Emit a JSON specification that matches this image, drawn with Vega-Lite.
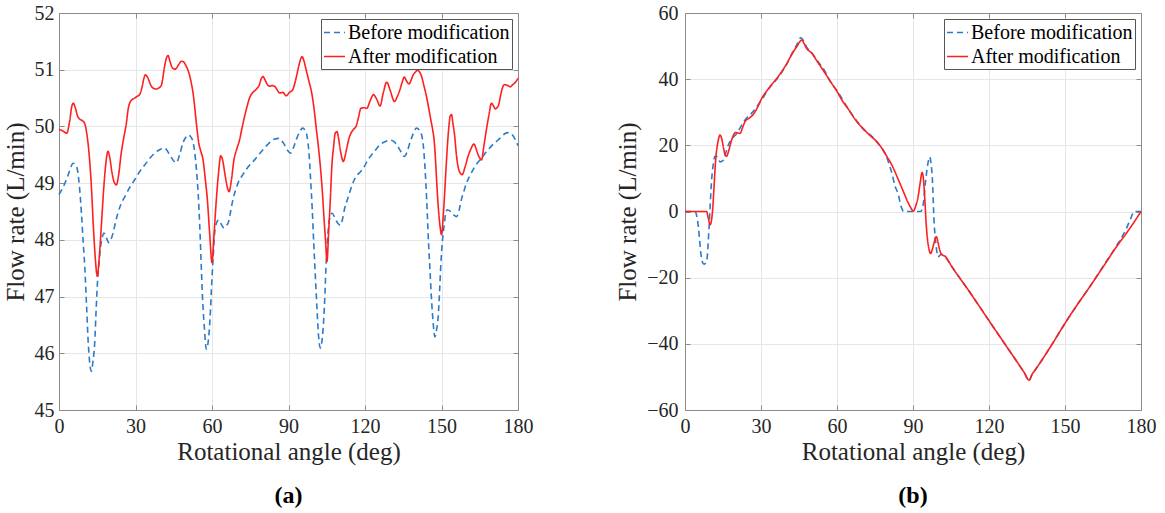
{
  "$schema": "https://vega.github.io/schema/vega-lite/v6.json",
  "background": "white",
  "padding": {"left": 3, "top": 3, "right": 5, "bottom": 2},
  "bounds": "flush",
  "spacing": 167,
  "config": {
    "font": "Liberation Serif",
    "view": {"stroke": null},
    "axis": {
      "labelFont": "Liberation Serif",
      "titleFont": "Liberation Serif",
      "labelFontSize": 20,
      "titleFontSize": 25,
      "titleFontWeight": "normal",
      "labelColor": "#262626",
      "titleColor": "#262626",
      "domainColor": "#8c8c8c",
      "tickColor": "#8c8c8c",
      "gridColor": "#e6e6e6",
      "tickSize": -5,
      "labelPadding": 11,
      "labelFlush": false
    },
    "legend": {
      "orient": "top-right",
      "offset": 6,
      "padding": 2,
      "strokeColor": "#555555",
      "fillColor": "#ffffff",
      "labelFont": "Liberation Serif",
      "labelFontSize": 20,
      "labelColor": "#000000",
      "labelLimit": 400,
      "symbolSize": 441,
      "symbolStrokeWidth": 1.6,
      "rowPadding": 2,
      "labelOffset": 2
    },
    "title": {"font": "Liberation Serif", "fontSize": 24, "fontWeight": "bold", "color": "#000000"}
  },
  "datasets": {
    "a": [
      {"series": "Before modification", "angle": 0, "flow": 48.8},
      {"series": "Before modification", "angle": 1.5, "flow": 48.92},
      {"series": "Before modification", "angle": 2.9, "flow": 49.06},
      {"series": "Before modification", "angle": 4.2, "flow": 49.22},
      {"series": "Before modification", "angle": 5.5, "flow": 49.35},
      {"series": "Before modification", "angle": 6.4, "flow": 49.33},
      {"series": "Before modification", "angle": 7.2, "flow": 49.24},
      {"series": "Before modification", "angle": 8.0, "flow": 48.95},
      {"series": "Before modification", "angle": 8.8, "flow": 48.47},
      {"series": "Before modification", "angle": 9.5, "flow": 47.95},
      {"series": "Before modification", "angle": 10.1, "flow": 47.53},
      {"series": "Before modification", "angle": 10.8, "flow": 46.85},
      {"series": "Before modification", "angle": 11.4, "flow": 46.24},
      {"series": "Before modification", "angle": 12.0, "flow": 45.85},
      {"series": "Before modification", "angle": 12.7, "flow": 45.68},
      {"series": "Before modification", "angle": 13.3, "flow": 45.85},
      {"series": "Before modification", "angle": 14.0, "flow": 46.18},
      {"series": "Before modification", "angle": 14.5, "flow": 46.7},
      {"series": "Before modification", "angle": 15.0, "flow": 47.18},
      {"series": "Before modification", "angle": 15.6, "flow": 47.55},
      {"series": "Before modification", "angle": 16.3, "flow": 47.88},
      {"series": "Before modification", "angle": 17.0, "flow": 48.05},
      {"series": "Before modification", "angle": 17.6, "flow": 48.12},
      {"series": "Before modification", "angle": 18.5, "flow": 48.05},
      {"series": "Before modification", "angle": 19.5, "flow": 47.95},
      {"series": "Before modification", "angle": 20.3, "flow": 48.0},
      {"series": "Before modification", "angle": 21.2, "flow": 48.12},
      {"series": "Before modification", "angle": 22.1, "flow": 48.3},
      {"series": "Before modification", "angle": 23.1, "flow": 48.47},
      {"series": "Before modification", "angle": 24.3, "flow": 48.63},
      {"series": "Before modification", "angle": 25.8, "flow": 48.76},
      {"series": "Before modification", "angle": 27.7, "flow": 48.92},
      {"series": "Before modification", "angle": 29.7, "flow": 49.06},
      {"series": "Before modification", "angle": 31.6, "flow": 49.2},
      {"series": "Before modification", "angle": 33.6, "flow": 49.32},
      {"series": "Before modification", "angle": 35.5, "flow": 49.43},
      {"series": "Before modification", "angle": 37.5, "flow": 49.53},
      {"series": "Before modification", "angle": 39.5, "flow": 49.59},
      {"series": "Before modification", "angle": 41.4, "flow": 49.62},
      {"series": "Before modification", "angle": 42.6, "flow": 49.56},
      {"series": "Before modification", "angle": 43.8, "flow": 49.47},
      {"series": "Before modification", "angle": 45.0, "flow": 49.39},
      {"series": "Before modification", "angle": 46.0, "flow": 49.36},
      {"series": "Before modification", "angle": 47.3, "flow": 49.5},
      {"series": "Before modification", "angle": 48.6, "flow": 49.71},
      {"series": "Before modification", "angle": 49.6, "flow": 49.8},
      {"series": "Before modification", "angle": 50.6, "flow": 49.85},
      {"series": "Before modification", "angle": 51.6, "flow": 49.82},
      {"series": "Before modification", "angle": 52.5, "flow": 49.74},
      {"series": "Before modification", "angle": 53.2, "flow": 49.55},
      {"series": "Before modification", "angle": 53.9, "flow": 49.24},
      {"series": "Before modification", "angle": 54.6, "flow": 48.8},
      {"series": "Before modification", "angle": 55.2, "flow": 48.24},
      {"series": "Before modification", "angle": 55.7, "flow": 47.65},
      {"series": "Before modification", "angle": 56.2, "flow": 47.06},
      {"series": "Before modification", "angle": 57.0, "flow": 46.45},
      {"series": "Before modification", "angle": 57.8, "flow": 46.07},
      {"series": "Before modification", "angle": 58.5, "flow": 46.2},
      {"series": "Before modification", "angle": 59.2, "flow": 46.59},
      {"series": "Before modification", "angle": 59.8, "flow": 47.15},
      {"series": "Before modification", "angle": 60.4, "flow": 47.65},
      {"series": "Before modification", "angle": 61.0, "flow": 48.1},
      {"series": "Before modification", "angle": 61.8, "flow": 48.3},
      {"series": "Before modification", "angle": 62.6, "flow": 48.35},
      {"series": "Before modification", "angle": 63.6, "flow": 48.28},
      {"series": "Before modification", "angle": 64.7, "flow": 48.21},
      {"series": "Before modification", "angle": 65.6, "flow": 48.25},
      {"series": "Before modification", "angle": 66.5, "flow": 48.32},
      {"series": "Before modification", "angle": 67.3, "flow": 48.5},
      {"series": "Before modification", "angle": 68.2, "flow": 48.71},
      {"series": "Before modification", "angle": 69.2, "flow": 48.87},
      {"series": "Before modification", "angle": 70.2, "flow": 49.0},
      {"series": "Before modification", "angle": 71.8, "flow": 49.13},
      {"series": "Before modification", "angle": 73.4, "flow": 49.24},
      {"series": "Before modification", "angle": 75.0, "flow": 49.33},
      {"series": "Before modification", "angle": 76.7, "flow": 49.41},
      {"series": "Before modification", "angle": 78.3, "flow": 49.5},
      {"series": "Before modification", "angle": 80.0, "flow": 49.59},
      {"series": "Before modification", "angle": 81.6, "flow": 49.67},
      {"series": "Before modification", "angle": 83.2, "flow": 49.74},
      {"series": "Before modification", "angle": 84.7, "flow": 49.78},
      {"series": "Before modification", "angle": 86.1, "flow": 49.79},
      {"series": "Before modification", "angle": 87.3, "flow": 49.75},
      {"series": "Before modification", "angle": 88.4, "flow": 49.68},
      {"series": "Before modification", "angle": 89.6, "flow": 49.58},
      {"series": "Before modification", "angle": 90.8, "flow": 49.53},
      {"series": "Before modification", "angle": 91.9, "flow": 49.62},
      {"series": "Before modification", "angle": 93.0, "flow": 49.76},
      {"series": "Before modification", "angle": 94.3, "flow": 49.9},
      {"series": "Before modification", "angle": 95.6, "flow": 49.97},
      {"series": "Before modification", "angle": 96.5, "flow": 49.93},
      {"series": "Before modification", "angle": 97.3, "flow": 49.82},
      {"series": "Before modification", "angle": 98.0, "flow": 49.55},
      {"series": "Before modification", "angle": 98.6, "flow": 49.12},
      {"series": "Before modification", "angle": 99.3, "flow": 48.55},
      {"series": "Before modification", "angle": 99.9, "flow": 47.94},
      {"series": "Before modification", "angle": 100.6, "flow": 47.3},
      {"series": "Before modification", "angle": 101.2, "flow": 46.76},
      {"series": "Before modification", "angle": 101.8, "flow": 46.3},
      {"series": "Before modification", "angle": 102.5, "flow": 46.09},
      {"series": "Before modification", "angle": 103.2, "flow": 46.25},
      {"series": "Before modification", "angle": 103.8, "flow": 46.59},
      {"series": "Before modification", "angle": 104.3, "flow": 47.05},
      {"series": "Before modification", "angle": 104.7, "flow": 47.53},
      {"series": "Before modification", "angle": 105.3, "flow": 48.0},
      {"series": "Before modification", "angle": 106.0, "flow": 48.35},
      {"series": "Before modification", "angle": 107.1, "flow": 48.47},
      {"series": "Before modification", "angle": 108.1, "flow": 48.4},
      {"series": "Before modification", "angle": 109.2, "flow": 48.3},
      {"series": "Before modification", "angle": 110.3, "flow": 48.26},
      {"series": "Before modification", "angle": 111.1, "flow": 48.35},
      {"series": "Before modification", "angle": 111.9, "flow": 48.53},
      {"series": "Before modification", "angle": 112.9, "flow": 48.68},
      {"series": "Before modification", "angle": 113.9, "flow": 48.82},
      {"series": "Before modification", "angle": 114.8, "flow": 48.95},
      {"series": "Before modification", "angle": 115.8, "flow": 49.06},
      {"series": "Before modification", "angle": 117.1, "flow": 49.15},
      {"series": "Before modification", "angle": 118.4, "flow": 49.21},
      {"series": "Before modification", "angle": 119.7, "flow": 49.29},
      {"series": "Before modification", "angle": 121.0, "flow": 49.4},
      {"series": "Before modification", "angle": 122.6, "flow": 49.5},
      {"series": "Before modification", "angle": 124.2, "flow": 49.59},
      {"series": "Before modification", "angle": 125.9, "flow": 49.68},
      {"series": "Before modification", "angle": 127.8, "flow": 49.73},
      {"series": "Before modification", "angle": 129.8, "flow": 49.76},
      {"series": "Before modification", "angle": 131.1, "flow": 49.74},
      {"series": "Before modification", "angle": 132.4, "flow": 49.68},
      {"series": "Before modification", "angle": 134.0, "flow": 49.56},
      {"series": "Before modification", "angle": 135.4, "flow": 49.47},
      {"series": "Before modification", "angle": 136.5, "flow": 49.55},
      {"series": "Before modification", "angle": 137.6, "flow": 49.71},
      {"series": "Before modification", "angle": 139.0, "flow": 49.88},
      {"series": "Before modification", "angle": 140.2, "flow": 49.97},
      {"series": "Before modification", "angle": 141.2, "flow": 49.94},
      {"series": "Before modification", "angle": 142.2, "flow": 49.85},
      {"series": "Before modification", "angle": 142.9, "flow": 49.65},
      {"series": "Before modification", "angle": 143.5, "flow": 49.29},
      {"series": "Before modification", "angle": 144.2, "flow": 48.7},
      {"series": "Before modification", "angle": 144.8, "flow": 48.06},
      {"series": "Before modification", "angle": 145.5, "flow": 47.45},
      {"series": "Before modification", "angle": 146.1, "flow": 46.94},
      {"series": "Before modification", "angle": 146.8, "flow": 46.5},
      {"series": "Before modification", "angle": 147.4, "flow": 46.29},
      {"series": "Before modification", "angle": 148.0, "flow": 46.4},
      {"series": "Before modification", "angle": 148.7, "flow": 46.65},
      {"series": "Before modification", "angle": 149.2, "flow": 47.05},
      {"series": "Before modification", "angle": 149.7, "flow": 47.53},
      {"series": "Before modification", "angle": 150.3, "flow": 47.95},
      {"series": "Before modification", "angle": 151.0, "flow": 48.24},
      {"series": "Before modification", "angle": 151.6, "flow": 48.45},
      {"series": "Before modification", "angle": 152.3, "flow": 48.53},
      {"series": "Before modification", "angle": 153.5, "flow": 48.5},
      {"series": "Before modification", "angle": 154.8, "flow": 48.44},
      {"series": "Before modification", "angle": 155.9, "flow": 48.41},
      {"series": "Before modification", "angle": 156.9, "flow": 48.52},
      {"series": "Before modification", "angle": 157.8, "flow": 48.71},
      {"series": "Before modification", "angle": 158.8, "flow": 48.86},
      {"series": "Before modification", "angle": 159.8, "flow": 49.0},
      {"series": "Before modification", "angle": 161.1, "flow": 49.13},
      {"series": "Before modification", "angle": 162.4, "flow": 49.24},
      {"series": "Before modification", "angle": 164.0, "flow": 49.35},
      {"series": "Before modification", "angle": 165.7, "flow": 49.44},
      {"series": "Before modification", "angle": 167.3, "flow": 49.54},
      {"series": "Before modification", "angle": 168.9, "flow": 49.62},
      {"series": "Before modification", "angle": 170.6, "flow": 49.7},
      {"series": "Before modification", "angle": 172.2, "flow": 49.76},
      {"series": "Before modification", "angle": 173.5, "flow": 49.82},
      {"series": "Before modification", "angle": 174.8, "flow": 49.87},
      {"series": "Before modification", "angle": 176.0, "flow": 49.89},
      {"series": "Before modification", "angle": 177.0, "flow": 49.88},
      {"series": "Before modification", "angle": 178.0, "flow": 49.84},
      {"series": "Before modification", "angle": 179.0, "flow": 49.76},
      {"series": "Before modification", "angle": 180.0, "flow": 49.66},
      {"series": "After modification", "angle": 0, "flow": 49.95},
      {"series": "After modification", "angle": 1.5, "flow": 49.92},
      {"series": "After modification", "angle": 3.0, "flow": 49.88},
      {"series": "After modification", "angle": 4.2, "flow": 50.1},
      {"series": "After modification", "angle": 5.0, "flow": 50.35},
      {"series": "After modification", "angle": 5.6, "flow": 50.41},
      {"series": "After modification", "angle": 6.4, "flow": 50.33},
      {"series": "After modification", "angle": 7.3, "flow": 50.18},
      {"series": "After modification", "angle": 8.1, "flow": 50.13},
      {"series": "After modification", "angle": 9.2, "flow": 50.1},
      {"series": "After modification", "angle": 10.1, "flow": 50.05},
      {"series": "After modification", "angle": 10.8, "flow": 49.9},
      {"series": "After modification", "angle": 11.4, "flow": 49.7},
      {"series": "After modification", "angle": 12.1, "flow": 49.35},
      {"series": "After modification", "angle": 12.7, "flow": 48.94},
      {"series": "After modification", "angle": 13.4, "flow": 48.3},
      {"series": "After modification", "angle": 14.2, "flow": 47.7},
      {"series": "After modification", "angle": 15.0, "flow": 47.36},
      {"series": "After modification", "angle": 15.8, "flow": 47.7},
      {"series": "After modification", "angle": 16.6, "flow": 48.24},
      {"series": "After modification", "angle": 17.3, "flow": 48.75},
      {"series": "After modification", "angle": 17.9, "flow": 49.12},
      {"series": "After modification", "angle": 18.5, "flow": 49.4},
      {"series": "After modification", "angle": 19.2, "flow": 49.56},
      {"series": "After modification", "angle": 19.9, "flow": 49.45},
      {"series": "After modification", "angle": 20.8, "flow": 49.18},
      {"series": "After modification", "angle": 21.6, "flow": 49.02},
      {"series": "After modification", "angle": 22.5, "flow": 48.97},
      {"series": "After modification", "angle": 23.4, "flow": 49.15},
      {"series": "After modification", "angle": 24.4, "flow": 49.53},
      {"series": "After modification", "angle": 25.4, "flow": 49.8},
      {"series": "After modification", "angle": 26.4, "flow": 50.05},
      {"series": "After modification", "angle": 27.1, "flow": 50.3},
      {"series": "After modification", "angle": 27.7, "flow": 50.41},
      {"series": "After modification", "angle": 28.6, "flow": 50.47},
      {"series": "After modification", "angle": 29.7, "flow": 50.5},
      {"series": "After modification", "angle": 30.6, "flow": 50.53},
      {"series": "After modification", "angle": 31.6, "flow": 50.56},
      {"series": "After modification", "angle": 32.6, "flow": 50.7},
      {"series": "After modification", "angle": 33.3, "flow": 50.85},
      {"series": "After modification", "angle": 33.9, "flow": 50.91},
      {"series": "After modification", "angle": 34.9, "flow": 50.85},
      {"series": "After modification", "angle": 36.2, "flow": 50.71},
      {"series": "After modification", "angle": 37.2, "flow": 50.67},
      {"series": "After modification", "angle": 38.2, "flow": 50.66},
      {"series": "After modification", "angle": 39.2, "flow": 50.68},
      {"series": "After modification", "angle": 40.1, "flow": 50.72},
      {"series": "After modification", "angle": 40.8, "flow": 50.88},
      {"series": "After modification", "angle": 41.4, "flow": 51.06},
      {"series": "After modification", "angle": 42.1, "flow": 51.2},
      {"series": "After modification", "angle": 42.8, "flow": 51.25},
      {"series": "After modification", "angle": 43.5, "flow": 51.15},
      {"series": "After modification", "angle": 44.5, "flow": 51.03},
      {"series": "After modification", "angle": 45.6, "flow": 51.01},
      {"series": "After modification", "angle": 46.8, "flow": 51.08},
      {"series": "After modification", "angle": 48.0, "flow": 51.15},
      {"series": "After modification", "angle": 48.8, "flow": 51.14},
      {"series": "After modification", "angle": 49.9, "flow": 51.06},
      {"series": "After modification", "angle": 50.9, "flow": 50.95},
      {"series": "After modification", "angle": 51.9, "flow": 50.76},
      {"series": "After modification", "angle": 52.6, "flow": 50.58},
      {"series": "After modification", "angle": 53.2, "flow": 50.35},
      {"series": "After modification", "angle": 54.0, "flow": 50.0},
      {"series": "After modification", "angle": 54.8, "flow": 49.71},
      {"series": "After modification", "angle": 55.7, "flow": 49.55},
      {"series": "After modification", "angle": 56.5, "flow": 49.41},
      {"series": "After modification", "angle": 57.3, "flow": 49.1},
      {"series": "After modification", "angle": 58.2, "flow": 48.7},
      {"series": "After modification", "angle": 59.1, "flow": 48.1},
      {"series": "After modification", "angle": 60.0, "flow": 47.6},
      {"series": "After modification", "angle": 60.8, "flow": 48.1},
      {"series": "After modification", "angle": 61.7, "flow": 48.71},
      {"series": "After modification", "angle": 62.6, "flow": 49.2},
      {"series": "After modification", "angle": 63.4, "flow": 49.48},
      {"series": "After modification", "angle": 64.2, "flow": 49.4},
      {"series": "After modification", "angle": 65.0, "flow": 49.18},
      {"series": "After modification", "angle": 65.9, "flow": 48.95},
      {"series": "After modification", "angle": 66.7, "flow": 48.85},
      {"series": "After modification", "angle": 67.6, "flow": 49.05},
      {"series": "After modification", "angle": 68.6, "flow": 49.41},
      {"series": "After modification", "angle": 69.7, "flow": 49.6},
      {"series": "After modification", "angle": 70.8, "flow": 49.76},
      {"series": "After modification", "angle": 71.8, "flow": 49.98},
      {"series": "After modification", "angle": 72.8, "flow": 50.18},
      {"series": "After modification", "angle": 73.8, "flow": 50.36},
      {"series": "After modification", "angle": 74.7, "flow": 50.5},
      {"series": "After modification", "angle": 76.0, "flow": 50.6},
      {"series": "After modification", "angle": 77.3, "flow": 50.65},
      {"series": "After modification", "angle": 78.7, "flow": 50.75},
      {"series": "After modification", "angle": 79.3, "flow": 50.84},
      {"series": "After modification", "angle": 80.0, "flow": 50.88},
      {"series": "After modification", "angle": 80.8, "flow": 50.82},
      {"series": "After modification", "angle": 81.7, "flow": 50.74},
      {"series": "After modification", "angle": 82.6, "flow": 50.71},
      {"series": "After modification", "angle": 83.5, "flow": 50.72},
      {"series": "After modification", "angle": 84.5, "flow": 50.71},
      {"series": "After modification", "angle": 85.5, "flow": 50.65},
      {"series": "After modification", "angle": 86.5, "flow": 50.59},
      {"series": "After modification", "angle": 87.8, "flow": 50.6},
      {"series": "After modification", "angle": 89.1, "flow": 50.54},
      {"series": "After modification", "angle": 90.4, "flow": 50.6},
      {"series": "After modification", "angle": 91.7, "flow": 50.65},
      {"series": "After modification", "angle": 92.7, "flow": 50.8},
      {"series": "After modification", "angle": 93.7, "flow": 51.0},
      {"series": "After modification", "angle": 94.5, "flow": 51.15},
      {"series": "After modification", "angle": 95.3, "flow": 51.23},
      {"series": "After modification", "angle": 96.1, "flow": 51.15},
      {"series": "After modification", "angle": 96.9, "flow": 51.0},
      {"series": "After modification", "angle": 98.0, "flow": 50.8},
      {"series": "After modification", "angle": 99.1, "flow": 50.59},
      {"series": "After modification", "angle": 100.0, "flow": 50.32},
      {"series": "After modification", "angle": 100.8, "flow": 50.0},
      {"series": "After modification", "angle": 101.7, "flow": 49.65},
      {"series": "After modification", "angle": 102.5, "flow": 49.29},
      {"series": "After modification", "angle": 103.2, "flow": 48.9},
      {"series": "After modification", "angle": 103.8, "flow": 48.47},
      {"series": "After modification", "angle": 104.5, "flow": 48.0},
      {"series": "After modification", "angle": 105.1, "flow": 47.62},
      {"series": "After modification", "angle": 105.7, "flow": 48.1},
      {"series": "After modification", "angle": 106.4, "flow": 48.71},
      {"series": "After modification", "angle": 107.0, "flow": 49.3},
      {"series": "After modification", "angle": 107.7, "flow": 49.65},
      {"series": "After modification", "angle": 108.3, "flow": 49.88},
      {"series": "After modification", "angle": 109.0, "flow": 49.91},
      {"series": "After modification", "angle": 109.6, "flow": 49.8},
      {"series": "After modification", "angle": 110.3, "flow": 49.59},
      {"series": "After modification", "angle": 110.9, "flow": 49.45},
      {"series": "After modification", "angle": 111.5, "flow": 49.38},
      {"series": "After modification", "angle": 112.2, "flow": 49.48},
      {"series": "After modification", "angle": 113.0, "flow": 49.65},
      {"series": "After modification", "angle": 113.8, "flow": 49.8},
      {"series": "After modification", "angle": 114.5, "flow": 49.88},
      {"series": "After modification", "angle": 115.5, "flow": 49.95},
      {"series": "After modification", "angle": 116.5, "flow": 50.0},
      {"series": "After modification", "angle": 117.4, "flow": 50.15},
      {"series": "After modification", "angle": 118.4, "flow": 50.32},
      {"series": "After modification", "angle": 119.5, "flow": 50.33},
      {"series": "After modification", "angle": 120.7, "flow": 50.32},
      {"series": "After modification", "angle": 122.0, "flow": 50.45},
      {"series": "After modification", "angle": 123.3, "flow": 50.56},
      {"series": "After modification", "angle": 124.6, "flow": 50.48},
      {"series": "After modification", "angle": 125.9, "flow": 50.36},
      {"series": "After modification", "angle": 127.2, "flow": 50.6},
      {"series": "After modification", "angle": 128.5, "flow": 50.78},
      {"series": "After modification", "angle": 130.0, "flow": 50.62},
      {"series": "After modification", "angle": 131.5, "flow": 50.44},
      {"series": "After modification", "angle": 132.6, "flow": 50.52},
      {"series": "After modification", "angle": 133.7, "flow": 50.65},
      {"series": "After modification", "angle": 134.6, "flow": 50.78},
      {"series": "After modification", "angle": 135.4, "flow": 50.87},
      {"series": "After modification", "angle": 136.3, "flow": 50.8},
      {"series": "After modification", "angle": 137.3, "flow": 50.75},
      {"series": "After modification", "angle": 138.1, "flow": 50.82},
      {"series": "After modification", "angle": 138.9, "flow": 50.91},
      {"series": "After modification", "angle": 139.8, "flow": 50.96},
      {"series": "After modification", "angle": 140.6, "flow": 50.99},
      {"series": "After modification", "angle": 141.4, "flow": 50.96},
      {"series": "After modification", "angle": 142.2, "flow": 50.88},
      {"series": "After modification", "angle": 143.1, "flow": 50.72},
      {"series": "After modification", "angle": 144.1, "flow": 50.53},
      {"series": "After modification", "angle": 145.0, "flow": 50.32},
      {"series": "After modification", "angle": 145.8, "flow": 50.12},
      {"series": "After modification", "angle": 146.5, "flow": 49.95},
      {"series": "After modification", "angle": 147.1, "flow": 49.76},
      {"series": "After modification", "angle": 147.6, "flow": 49.45},
      {"series": "After modification", "angle": 148.0, "flow": 49.12},
      {"series": "After modification", "angle": 148.7, "flow": 48.6},
      {"series": "After modification", "angle": 149.4, "flow": 48.25},
      {"series": "After modification", "angle": 150.0, "flow": 48.09},
      {"series": "After modification", "angle": 150.8, "flow": 48.5},
      {"series": "After modification", "angle": 151.6, "flow": 49.12},
      {"series": "After modification", "angle": 152.3, "flow": 49.65},
      {"series": "After modification", "angle": 152.9, "flow": 50.0},
      {"series": "After modification", "angle": 153.4, "flow": 50.18},
      {"series": "After modification", "angle": 153.9, "flow": 50.21},
      {"series": "After modification", "angle": 154.5, "flow": 50.05},
      {"series": "After modification", "angle": 155.2, "flow": 49.82},
      {"series": "After modification", "angle": 155.8, "flow": 49.52},
      {"series": "After modification", "angle": 156.5, "flow": 49.29},
      {"series": "After modification", "angle": 157.3, "flow": 49.18},
      {"series": "After modification", "angle": 158.1, "flow": 49.15},
      {"series": "After modification", "angle": 159.2, "flow": 49.28},
      {"series": "After modification", "angle": 160.4, "flow": 49.47},
      {"series": "After modification", "angle": 161.5, "flow": 49.6},
      {"series": "After modification", "angle": 162.7, "flow": 49.69},
      {"series": "After modification", "angle": 163.4, "flow": 49.63},
      {"series": "After modification", "angle": 164.1, "flow": 49.53},
      {"series": "After modification", "angle": 164.9, "flow": 49.45},
      {"series": "After modification", "angle": 165.7, "flow": 49.41},
      {"series": "After modification", "angle": 166.6, "flow": 49.65},
      {"series": "After modification", "angle": 167.6, "flow": 49.94},
      {"series": "After modification", "angle": 168.6, "flow": 50.2},
      {"series": "After modification", "angle": 169.6, "flow": 50.41},
      {"series": "After modification", "angle": 170.4, "flow": 50.36},
      {"series": "After modification", "angle": 171.1, "flow": 50.31},
      {"series": "After modification", "angle": 171.8, "flow": 50.33},
      {"series": "After modification", "angle": 172.4, "flow": 50.38},
      {"series": "After modification", "angle": 173.1, "flow": 50.53},
      {"series": "After modification", "angle": 173.7, "flow": 50.65},
      {"series": "After modification", "angle": 174.8, "flow": 50.74},
      {"series": "After modification", "angle": 176.0, "flow": 50.72},
      {"series": "After modification", "angle": 177.0, "flow": 50.7},
      {"series": "After modification", "angle": 178.0, "flow": 50.74},
      {"series": "After modification", "angle": 179.0, "flow": 50.78},
      {"series": "After modification", "angle": 180.0, "flow": 50.85}
    ],
    "b": [
      {"series": "Before modification", "angle": 0, "flow": 0},
      {"series": "Before modification", "angle": 3.9, "flow": 0},
      {"series": "Before modification", "angle": 4.8, "flow": -2},
      {"series": "Before modification", "angle": 5.3, "flow": -4.8},
      {"series": "Before modification", "angle": 6.3, "flow": -12.9},
      {"series": "Before modification", "angle": 7.0, "flow": -15.5},
      {"series": "Before modification", "angle": 7.6, "flow": -15.9},
      {"series": "Before modification", "angle": 8.6, "flow": -14.9},
      {"series": "Before modification", "angle": 9.1, "flow": -10},
      {"series": "Before modification", "angle": 9.5, "flow": -4.8},
      {"series": "Before modification", "angle": 10.5, "flow": 9.4},
      {"series": "Before modification", "angle": 11.3, "flow": 15},
      {"series": "Before modification", "angle": 11.8, "flow": 16.7},
      {"series": "Before modification", "angle": 12.8, "flow": 16.5},
      {"series": "Before modification", "angle": 13.8, "flow": 15},
      {"series": "Before modification", "angle": 15.1, "flow": 15.5},
      {"series": "Before modification", "angle": 16.1, "flow": 17.8},
      {"series": "Before modification", "angle": 17.1, "flow": 20.1},
      {"series": "Before modification", "angle": 18.6, "flow": 22},
      {"series": "Before modification", "angle": 20.4, "flow": 23.6},
      {"series": "Before modification", "angle": 22, "flow": 25.6},
      {"series": "Before modification", "angle": 23.7, "flow": 27.7},
      {"series": "Before modification", "angle": 27, "flow": 30.3},
      {"series": "Before modification", "angle": 30, "flow": 33.5},
      {"series": "Before modification", "angle": 33, "flow": 37},
      {"series": "Before modification", "angle": 36.8, "flow": 40.6},
      {"series": "Before modification", "angle": 40, "flow": 44.3},
      {"series": "Before modification", "angle": 42.1, "flow": 47.6},
      {"series": "Before modification", "angle": 44, "flow": 50.2},
      {"series": "Before modification", "angle": 45.7, "flow": 52.5},
      {"series": "Before modification", "angle": 47, "flow": 51.3},
      {"series": "Before modification", "angle": 48, "flow": 49.7},
      {"series": "Before modification", "angle": 50, "flow": 48},
      {"series": "Before modification", "angle": 52, "flow": 45.8},
      {"series": "Before modification", "angle": 55.3, "flow": 42.3},
      {"series": "Before modification", "angle": 57.2, "flow": 39.5},
      {"series": "Before modification", "angle": 60, "flow": 36.5},
      {"series": "Before modification", "angle": 64.6, "flow": 30.8},
      {"series": "Before modification", "angle": 70.1, "flow": 25.2},
      {"series": "Before modification", "angle": 75.7, "flow": 21.1},
      {"series": "Before modification", "angle": 79.8, "flow": 16},
      {"series": "Before modification", "angle": 81.5, "flow": 12},
      {"series": "Before modification", "angle": 83, "flow": 7.5},
      {"series": "Before modification", "angle": 84.1, "flow": 5.4},
      {"series": "Before modification", "angle": 85.4, "flow": 1.3},
      {"series": "Before modification", "angle": 86.3, "flow": 0},
      {"series": "Before modification", "angle": 93, "flow": 0},
      {"series": "Before modification", "angle": 94, "flow": 2},
      {"series": "Before modification", "angle": 95, "flow": 9.4},
      {"series": "Before modification", "angle": 96, "flow": 15},
      {"series": "Before modification", "angle": 96.6, "flow": 16.5},
      {"series": "Before modification", "angle": 97.2, "flow": 14},
      {"series": "Before modification", "angle": 97.6, "flow": 10.5},
      {"series": "Before modification", "angle": 98.3, "flow": -2.7},
      {"series": "Before modification", "angle": 99.2, "flow": -10.9},
      {"series": "Before modification", "angle": 99.9, "flow": -13.7},
      {"series": "Before modification", "angle": 101.2, "flow": -12.9},
      {"series": "Before modification", "angle": 102.2, "flow": -13.3},
      {"series": "Before modification", "angle": 103, "flow": -14},
      {"series": "Before modification", "angle": 105.1, "flow": -16.4},
      {"series": "Before modification", "angle": 111.7, "flow": -23.6},
      {"series": "Before modification", "angle": 120, "flow": -33},
      {"series": "Before modification", "angle": 128, "flow": -42},
      {"series": "Before modification", "angle": 132, "flow": -46.5},
      {"series": "Before modification", "angle": 134, "flow": -48.8},
      {"series": "Before modification", "angle": 135.8, "flow": -51.2},
      {"series": "Before modification", "angle": 137, "flow": -49.2},
      {"series": "Before modification", "angle": 138.5, "flow": -47.6},
      {"series": "Before modification", "angle": 145, "flow": -40},
      {"series": "Before modification", "angle": 150, "flow": -33.8},
      {"series": "Before modification", "angle": 155, "flow": -28},
      {"series": "Before modification", "angle": 160, "flow": -22.5},
      {"series": "Before modification", "angle": 165, "flow": -16.6},
      {"series": "Before modification", "angle": 170, "flow": -10.8},
      {"series": "Before modification", "angle": 174, "flow": -5.5},
      {"series": "Before modification", "angle": 176, "flow": -2},
      {"series": "Before modification", "angle": 177.3, "flow": 0},
      {"series": "Before modification", "angle": 180, "flow": 0},
      {"series": "After modification", "angle": 0, "flow": 0},
      {"series": "After modification", "angle": 4, "flow": 0},
      {"series": "After modification", "angle": 8.5, "flow": 0},
      {"series": "After modification", "angle": 9.2, "flow": -2},
      {"series": "After modification", "angle": 9.9, "flow": -4},
      {"series": "After modification", "angle": 10.5, "flow": -2.5},
      {"series": "After modification", "angle": 11, "flow": 1.5},
      {"series": "After modification", "angle": 11.5, "flow": 8},
      {"series": "After modification", "angle": 12.1, "flow": 15.5},
      {"series": "After modification", "angle": 13, "flow": 21},
      {"series": "After modification", "angle": 13.8, "flow": 23.1},
      {"series": "After modification", "angle": 14.5, "flow": 22},
      {"series": "After modification", "angle": 15.2, "flow": 19.2},
      {"series": "After modification", "angle": 15.8, "flow": 17.2},
      {"series": "After modification", "angle": 16.4, "flow": 16.7},
      {"series": "After modification", "angle": 17.3, "flow": 18.5},
      {"series": "After modification", "angle": 18.2, "flow": 21.1},
      {"series": "After modification", "angle": 19.2, "flow": 23.2},
      {"series": "After modification", "angle": 20, "flow": 23.9},
      {"series": "After modification", "angle": 21, "flow": 23.7},
      {"series": "After modification", "angle": 21.7, "flow": 23.6},
      {"series": "After modification", "angle": 22.8, "flow": 25.5},
      {"series": "After modification", "angle": 23.7, "flow": 27.2},
      {"series": "After modification", "angle": 25.5, "flow": 28.3},
      {"series": "After modification", "angle": 27, "flow": 29.4},
      {"series": "After modification", "angle": 28.5, "flow": 31.3},
      {"series": "After modification", "angle": 30.3, "flow": 34.2},
      {"series": "After modification", "angle": 33, "flow": 37.2},
      {"series": "After modification", "angle": 36.8, "flow": 40.8},
      {"series": "After modification", "angle": 40, "flow": 44.5},
      {"series": "After modification", "angle": 42.1, "flow": 47.4},
      {"series": "After modification", "angle": 44, "flow": 49.7},
      {"series": "After modification", "angle": 46.1, "flow": 51.8},
      {"series": "After modification", "angle": 47, "flow": 50.8},
      {"series": "After modification", "angle": 48, "flow": 49.3},
      {"series": "After modification", "angle": 50, "flow": 47.9},
      {"series": "After modification", "angle": 52, "flow": 45.6},
      {"series": "After modification", "angle": 55.3, "flow": 41.8},
      {"series": "After modification", "angle": 58, "flow": 38.6},
      {"series": "After modification", "angle": 60, "flow": 36.3},
      {"series": "After modification", "angle": 62, "flow": 33.6},
      {"series": "After modification", "angle": 64.6, "flow": 30.8},
      {"series": "After modification", "angle": 67, "flow": 28},
      {"series": "After modification", "angle": 70.1, "flow": 25.2},
      {"series": "After modification", "angle": 73, "flow": 23},
      {"series": "After modification", "angle": 75.7, "flow": 21.1},
      {"series": "After modification", "angle": 78, "flow": 18.8},
      {"series": "After modification", "angle": 79.8, "flow": 16.5},
      {"series": "After modification", "angle": 81, "flow": 15},
      {"series": "After modification", "angle": 82.6, "flow": 12.5},
      {"series": "After modification", "angle": 84, "flow": 10},
      {"series": "After modification", "angle": 86, "flow": 6.4},
      {"series": "After modification", "angle": 88, "flow": 2.8},
      {"series": "After modification", "angle": 89, "flow": 1.3},
      {"series": "After modification", "angle": 90.2, "flow": 0.1},
      {"series": "After modification", "angle": 91, "flow": 1.5},
      {"series": "After modification", "angle": 92, "flow": 4.4},
      {"series": "After modification", "angle": 92.8, "flow": 8.5},
      {"series": "After modification", "angle": 93.6, "flow": 11.8},
      {"series": "After modification", "angle": 94.1, "flow": 10},
      {"series": "After modification", "angle": 94.6, "flow": 4.4},
      {"series": "After modification", "angle": 95.3, "flow": -4.8},
      {"series": "After modification", "angle": 96.2, "flow": -11},
      {"series": "After modification", "angle": 97, "flow": -12.7},
      {"series": "After modification", "angle": 97.6, "flow": -11.5},
      {"series": "After modification", "angle": 98.2, "flow": -9.8},
      {"series": "After modification", "angle": 99.2, "flow": -7.6},
      {"series": "After modification", "angle": 99.8, "flow": -9},
      {"series": "After modification", "angle": 100.3, "flow": -10.9},
      {"series": "After modification", "angle": 101.2, "flow": -12.9},
      {"series": "After modification", "angle": 102.9, "flow": -13.7},
      {"series": "After modification", "angle": 105.1, "flow": -16.4},
      {"series": "After modification", "angle": 111.7, "flow": -23.6},
      {"series": "After modification", "angle": 120, "flow": -33},
      {"series": "After modification", "angle": 128, "flow": -42},
      {"series": "After modification", "angle": 132, "flow": -46.5},
      {"series": "After modification", "angle": 134, "flow": -48.8},
      {"series": "After modification", "angle": 135.8, "flow": -51},
      {"series": "After modification", "angle": 137, "flow": -49.2},
      {"series": "After modification", "angle": 138.5, "flow": -47.6},
      {"series": "After modification", "angle": 145, "flow": -40},
      {"series": "After modification", "angle": 150, "flow": -33.8},
      {"series": "After modification", "angle": 155, "flow": -28},
      {"series": "After modification", "angle": 160, "flow": -22.5},
      {"series": "After modification", "angle": 165, "flow": -16.8},
      {"series": "After modification", "angle": 170, "flow": -11},
      {"series": "After modification", "angle": 174, "flow": -6.8},
      {"series": "After modification", "angle": 177, "flow": -3.5},
      {"series": "After modification", "angle": 180, "flow": 0}
    ]
  },
  "hconcat": [
    {
      "width": 459,
      "height": 397,
      "data": {"name": "a"},
      "title": {"text": "(a)", "orient": "bottom", "anchor": "middle", "offset": 20},
      "layer": [
        {
          "mark": {"type": "line", "strokeWidth": 1.6, "interpolate": "monotone"},
          "encoding": {
            "x": {"field": "angle", "type": "quantitative", "scale": {"domain": [0, 180], "nice": false},
                  "axis": {"orient": "bottom", "values": [0, 30, 60, 90, 120, 150, 180], "grid": true, "title": "Rotational angle (deg)", "titlePadding": 3}},
            "y": {"field": "flow", "type": "quantitative", "scale": {"domain": [45, 52], "nice": false, "zero": false},
                  "axis": {"orient": "left", "values": [45, 46, 47, 48, 49, 50, 51, 52], "grid": true, "title": "Flow rate (L/min)", "titlePadding": 6, "labelPadding": 10}},
            "color": {"field": "series", "type": "nominal",
                      "scale": {"domain": ["Before modification", "After modification"], "range": ["#2b7bc8", "#ff1f1f"]},
                      "legend": {"title": null}},
            "strokeDash": {"field": "series", "type": "nominal",
                           "scale": {"domain": ["Before modification", "After modification"], "range": [[6, 4], [1, 0]]},
                           "legend": {"title": null}}
          }
        },
        {
          "mark": {"type": "line", "opacity": 0},
          "encoding": {
            "x": {"field": "angle", "type": "quantitative", "axis": {"orient": "top", "values": [0, 30, 60, 90, 120, 150, 180], "labels": false, "title": null, "grid": false}},
            "y": {"field": "flow", "type": "quantitative", "axis": {"orient": "right", "values": [45, 46, 47, 48, 49, 50, 51, 52], "labels": false, "title": null, "grid": false}}
          }
        }
      ],
      "resolve": {"axis": {"x": "independent", "y": "independent"}}
    },
    {
      "width": 456,
      "height": 397,
      "data": {"name": "b"},
      "title": {"text": "(b)", "orient": "bottom", "anchor": "middle", "offset": 20},
      "layer": [
        {
          "mark": {"type": "line", "strokeWidth": 1.6, "interpolate": "monotone"},
          "encoding": {
            "x": {"field": "angle", "type": "quantitative", "scale": {"domain": [0, 180], "nice": false},
                  "axis": {"orient": "bottom", "values": [0, 30, 60, 90, 120, 150, 180], "grid": true, "title": "Rotational angle (deg)", "titlePadding": 3}},
            "y": {"field": "flow", "type": "quantitative", "scale": {"domain": [-60, 60], "nice": false},
                  "axis": {"orient": "left", "values": [-60, -40, -20, 0, 20, 40, 60], "grid": true, "title": "Flow rate (L/min)", "titlePadding": 6, "labelPadding": 12}},
            "color": {"field": "series", "type": "nominal",
                      "scale": {"domain": ["Before modification", "After modification"], "range": ["#2b7bc8", "#ff1f1f"]},
                      "legend": {"title": null}},
            "strokeDash": {"field": "series", "type": "nominal",
                           "scale": {"domain": ["Before modification", "After modification"], "range": [[6, 4], [1, 0]]},
                           "legend": {"title": null}}
          }
        },
        {
          "mark": {"type": "line", "opacity": 0},
          "encoding": {
            "x": {"field": "angle", "type": "quantitative", "axis": {"orient": "top", "values": [0, 30, 60, 90, 120, 150, 180], "labels": false, "title": null, "grid": false}},
            "y": {"field": "flow", "type": "quantitative", "axis": {"orient": "right", "values": [-60, -40, -20, 0, 20, 40, 60], "labels": false, "title": null, "grid": false}}
          }
        }
      ],
      "resolve": {"axis": {"x": "independent", "y": "independent"}}
    }
  ],
  "resolve": {"scale": {"color": "independent", "strokeDash": "independent"}}
}
